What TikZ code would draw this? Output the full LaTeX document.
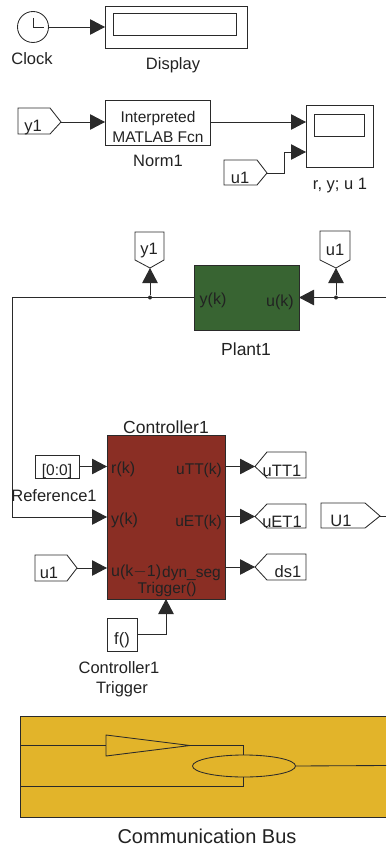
\documentclass[tikz,border=0pt]{standalone}
\usepackage{fontspec}
\setmainfont{Liberation Sans}
\usetikzlibrary{arrows.meta,shapes.geometric,calc}
\newcommand{\fsz}[1]{\fontsize{#1}{#1}\selectfont}
\definecolor{ink}{RGB}{42,42,42}
\definecolor{txt}{RGB}{34,34,34}
\definecolor{plantgreen}{RGB}{56,100,50}
\definecolor{ctrlred}{RGB}{138,46,36}
\definecolor{busyellow}{RGB}{226,180,42}
\tikzset{
  x=1pt,y=-1pt,
  bx/.style={draw=ink,line width=0.85pt,inner sep=0pt,outer sep=0pt},
  wire/.style={draw=ink,line width=0.85pt},
  arr/.style={wire,-{Triangle[length=15pt,width=15.5pt,color=ink]}},
  shp/.style={draw=ink,line width=0.85pt,line join=miter},
  lab/.style={text=txt,inner sep=0pt,font=\fsz{16.5}},
  dot/.style={circle,fill=ink,draw=none,minimum size=4pt,inner sep=0pt},
}
\begin{document}
\begin{tikzpicture}
\useasboundingbox (0,0) rectangle (386,848);
% Top row
\node[bx,circle,minimum size=31pt] (clock) at (33,27) {};
\draw[wire] (33,18) -- (33,27.5) -- (43.5,27.5);
\node[lab] (clocklab) at (32,59) {Clock};
\node[bx,minimum width=142pt,minimum height=42pt] (disp) at (176,27) {};
\node[bx,minimum width=123pt,minimum height=22pt] (dispin) at (174.5,24) {};
\node[lab] (displab) at (173,65.5) {Display};
\draw[arr] (clock.east) -- (disp.west);
% Norm row
\coordinate (y1a) at (61,122);
\draw[shp] (18,108) -- (50,108) -- (y1a) -- (50,134) -- (18,134) -- cycle;
\node[lab] (y1alab) at (33,127.5) {y1};
\node[bx,minimum width=105pt,minimum height=45pt] (norm) at (157.5,122.5) {};
\node[lab,font=\fsz{15.5}] (normt1) at (158,118) {Interpreted};
\node[lab,font=\fsz{15.5}] (normt2) at (158,137.5) {MATLAB Fcn};
\node[lab] (normlab) at (158,161) {Norm1};
\draw[arr] (y1a) -- (y1a -| norm.west);
\node[bx,minimum width=67pt,minimum height=62pt] (scope) at (339.5,136) {};
\node[bx,minimum width=50pt,minimum height=22pt] (scopein) at (339,125) {};
\node[lab] (scopelab) at (340,186) {r, y; u 1};
\draw[arr] (norm.east |- y1a) -- (y1a -| scope.west);
\coordinate (u1a) at (267,173);
\coordinate (scopeb) at (306,152);
\draw[shp] (224,160) -- (257,160) -- (u1a) -- (257,185) -- (224,185) -- cycle;
\node[lab] (u1alab) at (240,177.5) {u1};
\draw[arr] (u1a) -- (284,173) -- (284,152) -- (scopeb);
% Plant
\node[bx,fill=plantgreen,minimum width=105pt,minimum height=65pt] (plant) at (246.5,297.5) {};
\node[lab,font=\fsz{16}] (planty) at (213,300) {y(k)};
\node[lab,font=\fsz{16}] (plantu) at (280,302) {u(k)};
\node[lab,font=\fsz{17.5}] (plantlab) at (246,349) {Plant1};
\coordinate (y1b) at (150,268);
\draw[shp] (135,232) -- (164,232) -- (164,260) -- (y1b) -- (135,260) -- cycle;
\node[lab] (y1blab) at (149,251) {y1};
\coordinate (u1b) at (336,268);
\draw[shp] (320,231) -- (350,231) -- (350,260) -- (u1b) -- (320,260) -- cycle;
\node[lab] (u1blab) at (335,250) {u1};
\node[dot] (j1) at (150,297.5) {};
\node[dot] (j2) at (336,297.5) {};
\coordinate (rightin) at (386,297.5);
\draw[arr] (rightin) -- (rightin -| plant.east);
\draw[arr] (j2) -- (u1b);
\draw[arr] (j1) -- (y1b);
% Controller
\node[bx,fill=ctrlred,minimum width=118pt,minimum height=164pt] (ctrl) at (166,517) {};
\node[lab,font=\fsz{17.5}] (ctrllab) at (166,427) {Controller1};
\node[lab,anchor=west,font=\fsz{16}] (cr) at (111,469) {r(k)};
\node[lab,anchor=west,font=\fsz{16}] (cy) at (111,520) {y(k)};
\node[lab,anchor=west,font=\fsz{16}] (cu) at (111,572) {u(k$-$1)};
\node[lab,anchor=east,font=\fsz{15.5}] (ctt) at (222,470) {uTT(k)};
\node[lab,anchor=east,font=\fsz{15.5}] (cet) at (222,522) {uET(k)};
\node[lab,anchor=east,font=\fsz{15.5}] (cds) at (221,573) {dyn\_seg};
\node[lab,font=\fsz{15.5}] (ctr) at (167,589) {Trigger()};
\draw[wire] (plant.west) -- (12,297.5) -- (12,517);
\coordinate (fbk) at (12,517);
\draw[arr] (fbk) -- (fbk -| ctrl.west);
% left inputs
\node[bx,minimum width=44pt,minimum height=23pt] (ref) at (57,466.5) {};
\node[lab,font=\fsz{15.5}] (reft) at (57,471.5) {[0:0]};
\node[lab] (reflab) at (54,496) {Reference1};
\draw[arr] (ref.east) -- (ref.east -| ctrl.west);
\coordinate (u1c) at (77,568);
\draw[shp] (35,555) -- (67,555) -- (u1c) -- (67,581) -- (35,581) -- cycle;
\node[lab] (u1clab) at (49,573) {u1};
\draw[arr] (u1c) -- (u1c -| ctrl.west);
% right outputs
\coordinate (tt) at (255,466.5);
\draw[shp] (306,452) -- (267,452) -- (tt) -- (267,478) -- (306,478) -- cycle;
\node[lab] (ttl) at (282,471) {uTT1};
\coordinate (et) at (255,516.5);
\draw[shp] (306,504) -- (267,504) -- (et) -- (267,528) -- (306,528) -- cycle;
\node[lab] (etl) at (282,522) {uET1};
\coordinate (ds) at (255,567);
\draw[shp] (306,554) -- (267,554) -- (ds) -- (267,580) -- (306,580) -- cycle;
\node[lab] (dsl) at (288,572) {ds1};
\draw[arr] (ctrl.east |- tt) -- (tt);
\draw[arr] (ctrl.east |- et) -- (et);
\draw[arr] (ctrl.east |- ds) -- (ds);
\coordinate (U1) at (380,516);
\coordinate (U1out) at (386,516);
\draw[shp] (321,503) -- (365,503) -- (U1) -- (365,528) -- (321,528) -- cycle;
\node[lab] (U1l) at (341,521) {U1};
\draw[wire] (U1) -- (U1out);
% Trigger
\node[bx,minimum width=30pt,minimum height=33pt] (f) at (122,634.5) {};
\node[lab] (ft) at (122,640) {f()};
\coordinate (trig) at (166,599);
\draw[arr] (f.east) -- (166,634.5) -- (trig);
\node[lab] (tl1) at (119,668) {Controller1};
\node[lab] (tl2) at (122,689) {Trigger};
% Bus
\path[fill=busyellow] (20,716) rectangle (386,817);
\draw[wire] (386,716) -- (20,716) -- (20,817) -- (386,817);
\coordinate (busL1) at (20,745.5);
\coordinate (busL2) at (20,786);
\coordinate (busR) at (386,765.5);
\node[draw=ink,line width=0.85pt,ellipse,minimum width=103pt,minimum height=22pt,inner sep=0pt,outer sep=0pt] (or) at (244,766) {};
\draw[wire] (busL1) -- (106,745.5);
\draw[shp] (106,735) -- (190,745.5) -- (106,756) -- cycle;
\draw[wire] (190,745.5) -- (243.5,745.5) -- (243.5,755);
\draw[wire] (243.5,777) -- (243.5,786) -- (busL2);
\draw[wire] (or.east) -- (busR);
\node[lab,font=\fsz{20}] (buslab) at (207,836) {Communication Bus};
\end{tikzpicture}
\end{document}
